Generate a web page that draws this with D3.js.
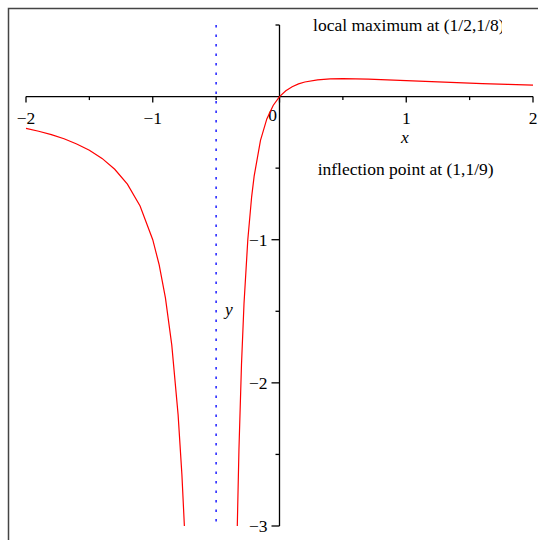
<!DOCTYPE html>
<html>
<head>
<meta charset="utf-8">
<script src="https://cdn.jsdelivr.net/npm/d3@7"></script>
<style>
  body { margin: 0; background: white; }
  text { font-family: 'Liberation Serif', 'Times New Roman', serif; }
</style>
</head>
<body>
<div id="chart"></div>
<script>
var w = 538;
var h = 540;
var fontSize = 17.5;

// branch left of the asymptote
var leftX = [-2, -1.9, -1.8, -1.7, -1.6, -1.5, -1.4, -1.3, -1.2, -1.1, -1.0, -0.95, -0.9, -0.85, -0.8, -0.77, -0.745];
var leftY = [-0.222, -0.242, -0.266, -0.295, -0.331, -0.375, -0.432, -0.508, -0.612, -0.764, -1.0, -1.173, -1.406, -1.735, -2.222, -2.641, -3.1];

// branch right of the asymptote
var rightX = [-0.335, -0.32, -0.3, -0.28, -0.25, -0.22, -0.2, -0.15, -0.1, -0.05, 0, 0.05, 0.1, 0.15, 0.2, 0.3, 0.4, 0.5, 0.6, 0.7, 0.8, 1.0, 1.2, 1.4, 1.6, 1.8, 2.0];
var rightY = [-3.08, -2.469, -1.875, -1.446, -1.0, -0.702, -0.556, -0.306, -0.156, -0.062, 0, 0.041, 0.069, 0.089, 0.102, 0.117, 0.123, 0.125, 0.124, 0.122, 0.118, 0.111, 0.104, 0.097, 0.091, 0.085, 0.08];

var asymptoteX = -0.5;

var xMajor = [-2, -1, 0, 1, 2];
var xMinor = [-1.5, -0.5, 0.5, 1.5];
var yMajor = [-1, -2, -3];
var yMinor = [0.5, -0.5, -1.5, -2.5];

var notes = [
  { text: 'local maximum at (1/2,1/8)', x: 1.02, y: 0.455 },
  { text: 'inflection point at (1,1/9)', x: 0.995, y: -0.545 }
];

var x = d3.scaleLinear().domain([-2, 2]).range([26, 533]);
var y = d3.scaleLinear().domain([-3, 0.5]).range([526, 25]);

var svg = d3.select('#chart').append('svg')
  .attr('width', w)
  .attr('height', h);

// frame (only the top and left edges are in view)
svg.append('rect')
  .attr('x', 8.5).attr('y', 8.5)
  .attr('width', 600).attr('height', 600)
  .attr('fill', 'none')
  .attr('stroke', '#444')
  .attr('stroke-width', 1.5);

svg.append('clipPath').attr('id', 'plotclip')
  .append('rect')
  .attr('x', 0).attr('y', y(0.5))
  .attr('width', w).attr('height', y(-3) - y(0.5));

svg.append('clipPath').attr('id', 'noteclip')
  .append('rect')
  .attr('x', 0).attr('y', 0)
  .attr('width', 502).attr('height', h);

// x axis
var xAxis = svg.append('g').attr('class', 'x-axis');
xAxis.append('line')
  .attr('x1', x(-2)).attr('x2', x(2))
  .attr('y1', y(0)).attr('y2', y(0))
  .attr('stroke', 'black').attr('stroke-width', 1.3);
xAxis.selectAll('.major').data(xMajor).enter().append('line')
  .attr('x1', function(d) { return x(d); })
  .attr('x2', function(d) { return x(d); })
  .attr('y1', y(0)).attr('y2', y(0) + 6)
  .attr('stroke', 'black').attr('stroke-width', 1.3);
xAxis.selectAll('.minor').data(xMinor).enter().append('line')
  .attr('x1', function(d) { return x(d); })
  .attr('x2', function(d) { return x(d); })
  .attr('y1', y(0)).attr('y2', y(0) + 3.5)
  .attr('stroke', 'black').attr('stroke-width', 1.3);
xAxis.selectAll('text').data(xMajor).enter().append('text')
  .attr('x', function(d) { return d == 0 ? x(d) - 7 : x(d); })
  .attr('y', function(d) { return d == 0 ? y(0) + 24 : y(0) + 27; })
  .attr('text-anchor', 'middle')
  .attr('font-size', fontSize)
  .text(function(d) { return d < 0 ? '\u2212' + (-d) : d; });

// y axis
var yAxis = svg.append('g').attr('class', 'y-axis');
yAxis.append('line')
  .attr('x1', x(0)).attr('x2', x(0))
  .attr('y1', y(0.5)).attr('y2', y(-3))
  .attr('stroke', 'black').attr('stroke-width', 1.3);
yAxis.selectAll('.major').data(yMajor).enter().append('line')
  .attr('x1', x(0) - 8).attr('x2', x(0))
  .attr('y1', function(d) { return y(d); })
  .attr('y2', function(d) { return y(d); })
  .attr('stroke', 'black').attr('stroke-width', 1.3);
yAxis.selectAll('.minor').data(yMinor).enter().append('line')
  .attr('x1', x(0) - 4).attr('x2', x(0))
  .attr('y1', function(d) { return y(d); })
  .attr('y2', function(d) { return y(d); })
  .attr('stroke', 'black').attr('stroke-width', 1.3);
yAxis.selectAll('text').data(yMajor).enter().append('text')
  .attr('x', x(0) - 12)
  .attr('y', function(d) { return y(d) + 6; })
  .attr('text-anchor', 'end')
  .attr('font-size', fontSize)
  .text(function(d) { return '\u2212' + (-d); });

// axis labels
svg.append('text')
  .attr('x', x(0.99)).attr('y', y(0) + 46)
  .attr('text-anchor', 'middle')
  .attr('font-size', fontSize).attr('font-style', 'italic')
  .text('x');
svg.append('text')
  .attr('x', x(-0.4)).attr('y', y(-1.5) + 4)
  .attr('text-anchor', 'middle')
  .attr('font-size', fontSize).attr('font-style', 'italic')
  .text('y');

// asymptote
svg.append('line')
  .attr('x1', x(asymptoteX)).attr('x2', x(asymptoteX))
  .attr('y1', y(0.5)).attr('y2', y(-3))
  .attr('stroke', '#2a2aff')
  .attr('stroke-width', 1.6)
  .attr('stroke-dasharray', '2.5,7');

// curve
var line = d3.line()
  .x(function(d) { return x(d[0]); })
  .y(function(d) { return y(d[1]); });

var branches = [d3.zip(leftX, leftY), d3.zip(rightX, rightY)];
svg.append('g').attr('clip-path', 'url(#plotclip)')
  .selectAll('path').data(branches).enter().append('path')
  .attr('d', line)
  .attr('fill', 'none')
  .attr('stroke', 'red')
  .attr('stroke-width', 1.2);

// notes
svg.append('g').attr('clip-path', 'url(#noteclip)')
  .selectAll('text').data(notes).enter().append('text')
  .attr('x', function(d) { return x(d.x); })
  .attr('y', function(d) { return y(d.y); })
  .attr('text-anchor', 'middle')
  .attr('font-size', fontSize)
  .text(function(d) { return d.text; });
</script>
</body>
</html>
